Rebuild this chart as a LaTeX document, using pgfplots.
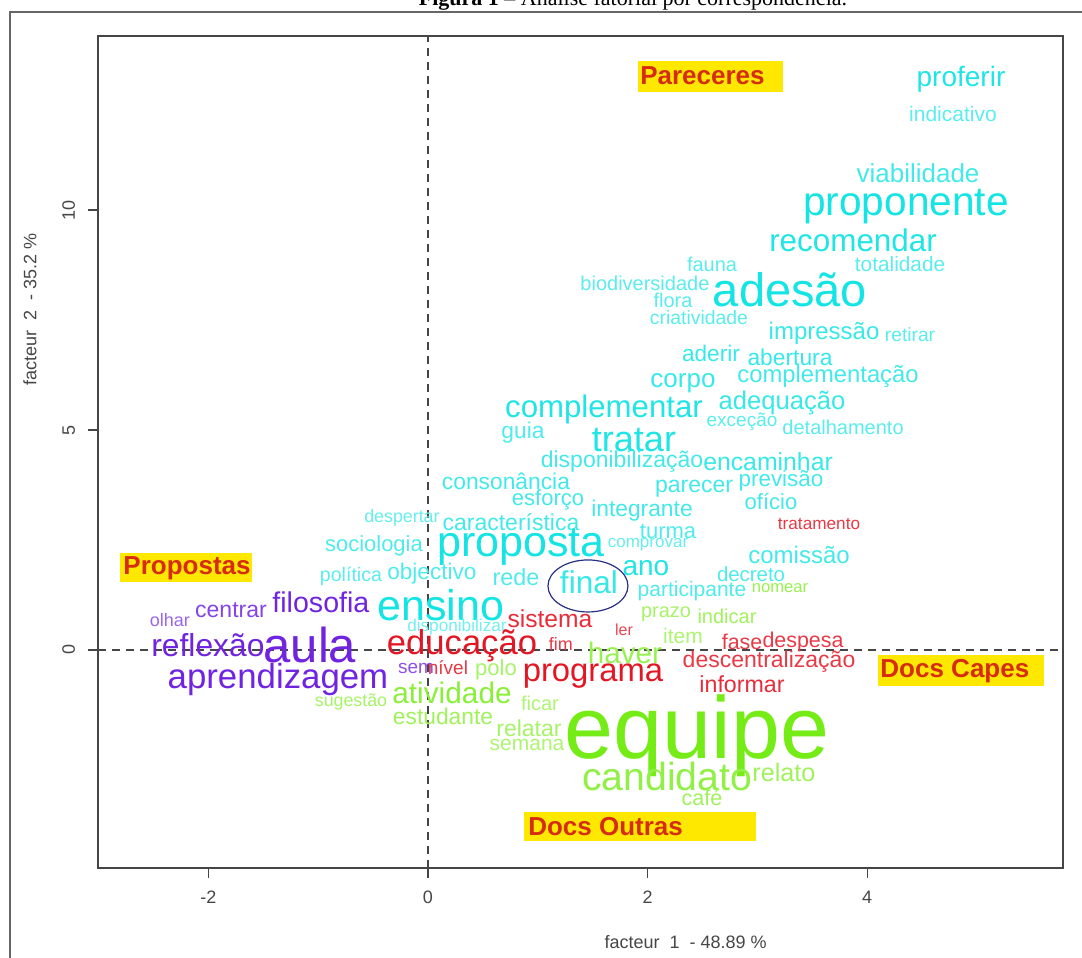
\documentclass[border=0pt]{standalone}
\usepackage{fontspec}
\setmainfont{Liberation Sans}
\newfontfamily\ttlfont{Liberation Serif}
\usepackage{pgfplots}
\pgfplotsset{compat=1.18}

\definecolor{wcyan}{RGB}{20,228,228}
\definecolor{wpurple}{RGB}{112,36,226}
\definecolor{wred}{RGB}{228,22,36}
\definecolor{wgreen}{RGB}{118,236,22}
\definecolor{lbltext}{RGB}{214,44,18}
\definecolor{lblfill}{RGB}{255,232,0}
\definecolor{ellc}{RGB}{40,48,130}
\definecolor{axc}{RGB}{70,70,70}

% one word cloud group: x y word size(pt) intensity(%)
\pgfplotsset{
  words/.style={only marks, mark=none, point meta=explicit symbolic, nodes near coords,
    visualization depends on={value \thisrow{s}\as\wsz},
    visualization depends on={value \thisrow{o}\as\wop},
    every node near coord/.append style={anchor=center, inner sep=0pt,
      font=\fontsize{\wsz}{\wsz}\selectfont, text=#1!\wop!white}}
}
\tikzset{catlabel/.style={font=\fontsize{13}{13}\selectfont\bfseries, text=lbltext, anchor=west, inner sep=0pt}}

\begin{document}
\begin{tikzpicture}
\useasboundingbox (0,0) rectangle (541pt,479pt);
% outer frame and cut title
\draw[black!60, line width=0.6pt] (5pt,0) -- (5pt,473pt) -- (545pt,473pt);
\node[anchor=base, font=\ttlfont\fontsize{11}{11}\selectfont] at (316.5pt,476pt) {\textbf{Figura 1} – Análise fatorial por correspondência.};

\begin{axis}[
  at={(49pt,45pt)}, anchor=south west,
  scale only axis, width=482.5pt, height=416pt,
  xmin=-3.005, xmax=5.783, ymin=-4.955, ymax=13.955,
  xtick={-2,0,2,4}, ytick={0,5,10},
  xtick pos=left, ytick pos=left, tick align=outside,
  major tick length=5pt,
  tick style={axc, line width=0.6pt},
  axis line style={axc, line width=0.8pt},
  /pgf/number format/assume math mode=true,
  ticklabel style={font=\fontsize{9}{9}\selectfont, text=axc},
  xticklabel shift=3pt, yticklabel shift=3pt,
  yticklabel style={rotate=90, anchor=south},
  xlabel={facteur\ \ 1\ \ - 48.89 \%},
  ylabel={facteur\ \ 2\ \ - 35.2 \%},
  xlabel style={at={(axis description cs:0.609,0)}, anchor=center, yshift=-37pt, font=\fontsize{9}{9}\selectfont, text=axc},
  ylabel style={at={(axis description cs:-0.0705,0.671)}, anchor=center, font=\fontsize{9}{9}\selectfont, text=axc},
  clip=false,
]

% category boxes
\fill[lblfill] (axis cs:1.913,12.682) rectangle (axis cs:3.233,13.386);
\fill[lblfill] (axis cs:-2.805,1.545) rectangle (axis cs:-1.603,2.205);
\fill[lblfill] (axis cs:4.098,-0.818) rectangle (axis cs:5.610,-0.114);
\fill[lblfill] (axis cs:0.874,-4.341) rectangle (axis cs:2.984,-3.682);

\addplot[words=wcyan] table[x=x, y=y, meta=w] {
x y w s o
4.854 12.977 proferir 14 95
4.781 12.182 indicativo 10.5 70
4.463 10.841 viabilidade 13 80
4.353 10.068 proponente 20.3 100
3.871 9.318 recomendar 15.7 95
4.299 8.773 totalidade 10.4 70
2.587 8.773 fauna 10 70
1.976 8.341 biodiversidade 10 70
3.297 8.182 adesão 23.5 100
2.231 7.955 flora 10 70
2.468 7.545 criatividade 9.7 70
3.607 7.205 impressão 12 85
4.390 7.159 retirar 9.6 70
2.577 6.750 aderir 11.3 85
3.297 6.659 abertura 11.4 85
3.643 6.227 complementação 11.9 80
2.322 6.068 corpo 13 85
1.603 5.477 complementar 15.6 95
3.224 5.614 adequação 12.8 85
2.860 5.182 exceção 9.5 70
3.780 5.068 detalhamento 10 70
0.865 4.932 guia 11.4 75
1.876 4.773 tratar 18 95
1.767 4.273 disponibilização 11.5 80
3.097 4.273 encaminhar 12.4 85
0.710 3.841 consonância 11.4 80
2.423 3.659 parecer 11.5 80
3.215 3.841 previsão 11.2 80
1.093 3.409 esforço 11 80
3.124 3.364 ofício 11 80
1.949 3.159 integrante 11.4 80
-0.237 3.000 despertar 8.9 65
0.756 2.909 característica 11.5 80
2.186 2.682 turma 11 75
-0.492 2.364 sociologia 11 75
0.847 2.341 proposta 21.5 100
2.004 2.386 comprovar 8.5 65
3.379 2.159 comissão 12 80
-0.701 1.682 política 9.8 70
0.036 1.727 objectivo 11.3 75
0.801 1.659 rede 11.7 75
1.466 1.545 final 15.8 85
1.985 1.864 ano 14 95
2.942 1.727 decreto 10.2 75
2.404 1.341 participante 10.5 75
0.118 1.023 ensino 21.5 100
0.264 0.523 disponibilizar 8.6 60
};

\addplot[words=wpurple] table[x=x, y=y, meta=w] {
x y w s o
-0.975 1.091 filosofia 14.3 100
-1.794 0.909 centrar 11.5 85
-2.350 0.682 olhar 9 70
-2.004 0.114 reflexão 15.9 100
-1.075 0.114 aula 24.5 100
-1.366 -0.682 aprendizagem 17.4 100
-0.109 -0.409 sem 9.5 80
};

\addplot[words=wred] table[x=x, y=y, meta=w] {
x y w s o
0.310 0.091 educação 17.3 100
1.111 0.705 sistema 12.3 90
1.785 0.455 ler 8 80
1.211 0.136 fim 9 85
1.503 -0.591 programa 16.4 100
2.860 0.182 fase 10.7 85
3.415 0.182 despesa 10.7 85
3.106 -0.273 descentralização 11.5 85
2.860 -0.773 informar 11.6 90
3.561 2.864 tratamento 8.6 85
0.182 -0.409 nível 9.5 85
};

\addplot[words=wgreen] table[x=x, y=y, meta=w] {
x y w s o
1.794 -0.068 haver 14.8 75
0.619 -0.455 polo 11 65
0.219 -0.977 atividade 14.9 85
-0.701 -1.182 sugestão 8.9 65
1.020 -1.205 ficar 10 60
0.137 -1.500 estudante 11.4 70
0.920 -1.773 relatar 11.5 65
0.902 -2.159 semana 10.5 60
2.168 0.818 prazo 10 65
2.723 0.773 indicar 10 70
2.322 0.318 item 10.5 60
3.206 1.409 nomear 8.3 75
2.450 -1.955 equipe 44 100
2.177 -2.864 candidato 19.6 80
3.242 -2.795 relato 12.6 70
2.495 -3.364 café 10.8 70
};

% category labels
\node[catlabel] at (axis cs:1.930,13.045) {Pareceres};
\node[catlabel] at (axis cs:-2.777,1.864) {Propostas};
\node[catlabel] at (axis cs:4.117,-0.477) {Docs Capes};
\node[catlabel] at (axis cs:0.910,-4.023) {Docs Outras};

% ellipse around "final"
\draw[ellc, line width=0.6pt] (axis cs:1.457,1.455) ellipse [x radius=20pt, y radius=13pt];

% origin lines
\draw[axc, line width=0.8pt, dash pattern=on 4pt off 3pt] (axis cs:0,-4.955) -- (axis cs:0,13.955);
\draw[axc, line width=0.8pt, dash pattern=on 4pt off 3pt] (axis cs:-3.005,0) -- (axis cs:5.783,0);
\end{axis}
\end{tikzpicture}
\end{document}
